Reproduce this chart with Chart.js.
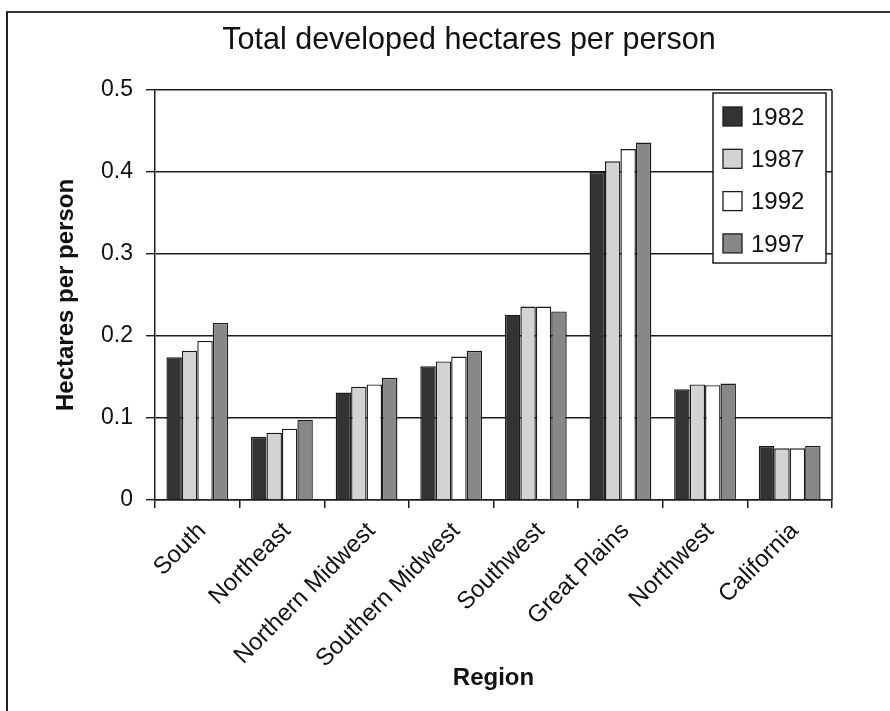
<!DOCTYPE html>
<html>
<head>
<meta charset="utf-8">
<script src="https://cdn.jsdelivr.net/npm/chart.js@4/dist/chart.umd.min.js"></script>
<style>
  html, body { margin: 0; padding: 0; background: #fff; }
  #wrap { position: relative; width: 890px; height: 711px; }
  #frame {
    position: absolute; left: 6px; top: 11px; right: 0; bottom: 0;
    border-top: 2px solid #333; border-left: 2px solid #222;
    pointer-events: none;
  }
  #title {
    position: absolute; left: 69px; width: 800px; top: 23px;
    text-align: center; white-space: nowrap;
    font: 30.5px/30px "Liberation Sans", Arial, sans-serif; color: #111;
  }
</style>
</head>
<body>
<div id="wrap">
  <canvas id="chart" width="890" height="711"></canvas>
  <div id="frame"></div>
  <div id="title">Total developed hectares per person</div>
</div>
<script>
// ── Data ──────────────────────────────────────
const regions = ['South', 'Northeast', 'Northern Midwest', 'Southern Midwest',
                 'Southwest', 'Great Plains', 'Northwest', 'California'];
const years   = ['1982', '1987', '1992', '1997'];

const ha1982 = [0.174, 0.077, 0.131, 0.163, 0.226, 0.400, 0.135, 0.066];
const ha1987 = [0.182, 0.082, 0.138, 0.169, 0.236, 0.413, 0.141, 0.063];
const ha1992 = [0.194, 0.087, 0.141, 0.175, 0.236, 0.428, 0.140, 0.063];
const ha1997 = [0.216, 0.098, 0.149, 0.182, 0.230, 0.436, 0.142, 0.066];

const yTicks = [0, 0.1, 0.2, 0.3, 0.4, 0.5];

const fills = ['#333333', '#d3d3d3', '#ffffff', '#888888'];
const ink   = '#1c1c1c';
const FONT  = '"Liberation Sans", Arial, sans-serif';

// ── Plot frame + legend inside plot ───────────
const boxLegend = {
  id: 'boxLegend',
  afterDraw(chart) {
    const { ctx, chartArea: a } = chart;
    ctx.save();
    // right edge of plot area
    ctx.strokeStyle = ink;
    ctx.lineWidth = 1.5;
    ctx.beginPath();
    ctx.moveTo(a.right, a.top);
    ctx.lineTo(a.right, a.bottom);
    ctx.stroke();

    // legend box
    const bx = a.right - 119, by = a.top + 3, bw = 113, bh = 170;
    ctx.fillStyle = '#fff';
    ctx.fillRect(bx, by, bw, bh);
    ctx.lineWidth = 1.5;
    ctx.strokeRect(bx, by, bw, bh);

    ctx.font = '24px ' + FONT;
    ctx.textBaseline = 'middle';
    ctx.textAlign = 'left';
    chart.data.datasets.forEach((ds, i) => {
      const cy = by + 24 + i * 42.3;
      ctx.fillStyle = ds.backgroundColor;
      ctx.fillRect(bx + 10, cy - 10, 19, 19);
      ctx.lineWidth = 1.3;
      ctx.strokeStyle = ink;
      ctx.strokeRect(bx + 10, cy - 10, 19, 19);
      ctx.fillStyle = '#111';
      ctx.fillText(ds.label, bx + 38, cy + 1);
    });
    ctx.restore();
  }
};

const seriesData = [ha1982, ha1987, ha1992, ha1997];

new Chart(document.getElementById('chart'), {
  type: 'bar',
  data: {
    labels: regions,
    datasets: years.map((y, i) => ({
      label: y,
      data: seriesData[i],
      backgroundColor: fills[i],
      borderColor: ink,
      borderWidth: 1.4,
      categoryPercentage: 0.73,
      barPercentage: 1.0
    }))
  },
  options: {
    responsive: false,
    animation: false,
    devicePixelRatio: 1,
    layout: { padding: { left: 10, right: 58, top: 90, bottom: 0 } },
    plugins: {
      legend: { display: false },
      tooltip: { enabled: false },
      title: { display: false }
    },
    scales: {
      x: {
        grid: { display: true, drawOnChartArea: false, drawTicks: true, tickLength: 8, color: ink, lineWidth: 1.5, offset: true },
        border: { display: true, color: ink, width: 1.5 },
        ticks: {
          color: '#111', autoSkip: false, maxRotation: 45, minRotation: 45,
          padding: 9, labelOffset: 5,
          font: { family: FONT, size: 24 }
        },
        title: {
          display: true, text: 'Region', color: '#111',
          font: { family: FONT, size: 24, weight: 'bold' },
          padding: { top: 0, bottom: 18 }
        },
        afterFit(scale) { scale.height = 211; }
      },
      y: {
        min: 0, max: 0.5,
        afterBuildTicks(scale) { scale.ticks = yTicks.map(v => ({ value: v })); },
        grid: { color: ink, lineWidth: 1.4, tickLength: 9, drawTicks: true },
        border: { display: true, color: ink, width: 1.5 },
        ticks: {
          color: '#111', padding: 13,
          font: { family: FONT, size: 23 }
        },
        title: {
          display: true, text: 'Hectares per person', color: '#111',
          font: { family: FONT, size: 24, weight: 'bold' },
          padding: { top: 42, bottom: 0 }
        },
        afterFit(scale) { scale.width = 145; }
      }
    }
  },
  plugins: [boxLegend]
});
</script>
</body>
</html>
